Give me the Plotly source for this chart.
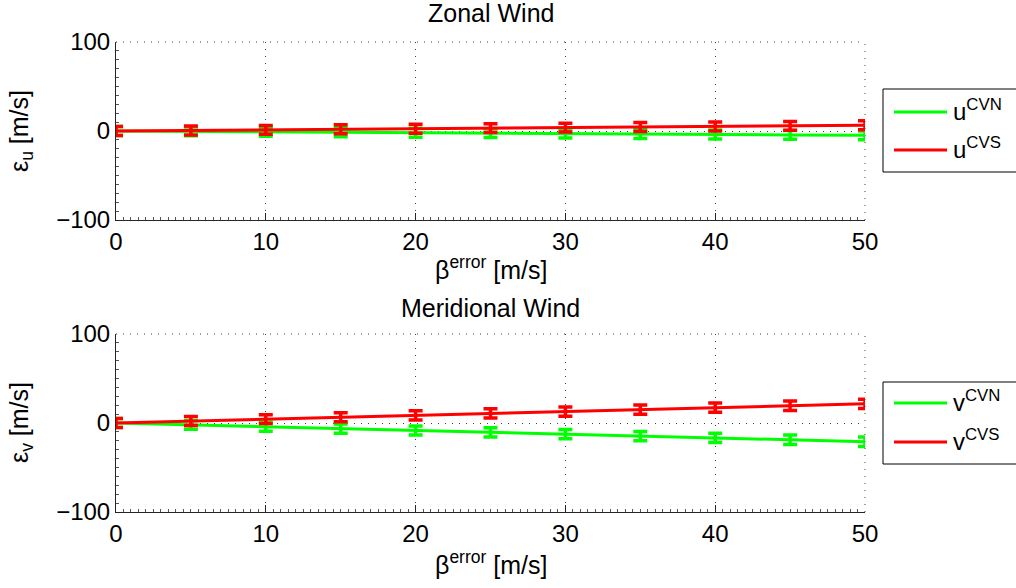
import plotly.graph_objects as go

# Error (m/s) in retrieved winds as a function of the injected beta error
beta_error = [0, 5, 10, 15, 20, 25, 30, 35, 40, 45, 50]

u_cvn = [0, -0.4, -0.9, -1.4, -1.9, -2.4, -2.9, -3.4, -3.9, -4.4, -4.9]
u_cvs = [0, 0.6, 1.3, 1.9, 2.6, 3.2, 3.8, 4.5, 5.1, 5.8, 6.4]
u_cvn_err = [5.0, 5.0, 5.0, 5.0, 5.0, 5.0, 5.0, 5.0, 5.0, 5.0, 5.0]
u_cvs_err = [5.0, 5.0, 5.0, 5.0, 5.0, 5.0, 5.0, 5.0, 5.0, 5.0, 5.0]

v_cvn = [0, -2.1, -4.2, -6.3, -8.4, -10.5, -12.6, -14.7, -16.8, -18.9, -21.0]
v_cvs = [0, 2.2, 4.3, 6.5, 8.6, 10.8, 12.9, 15.1, 17.2, 19.4, 21.5]
v_cvn_err = [5.0, 5.0, 5.0, 5.1, 5.1, 5.1, 5.2, 5.2, 5.2, 5.3, 5.3]
v_cvs_err = [5.0, 5.0, 5.0, 5.1, 5.1, 5.1, 5.2, 5.2, 5.2, 5.3, 5.3]

x_ticks = [0, 10, 20, 30, 40, 50]
y_ticks = [-100, 0, 100]

W, H = 1016, 588
GREEN = "#00ff00"
RED = "#ff0000"
FONT = "Liberation Sans, Arial, Helvetica, sans-serif"
GRID_DASH = "1px,6px"
GRID_COLOR = "#404040"


def fx(p):
    return p / W


def fy(p):
    return 1 - p / H


fig = go.Figure()


def add_series(x, y, err, color, xa, ya):
    fig.add_trace(go.Scatter(
        x=x, y=y, mode="lines", xaxis=xa, yaxis=ya,
        line=dict(color=color, width=3),
        error_y=dict(type="data", array=err, visible=True,
                     color=color, thickness=3.5, width=7),
        showlegend=False, cliponaxis=False,
    ))


add_series(beta_error, u_cvn, u_cvn_err, GREEN, "x", "y")
add_series(beta_error, u_cvs, u_cvs_err, RED, "x", "y")
add_series(beta_error, v_cvn, v_cvn_err, GREEN, "x2", "y2")
add_series(beta_error, v_cvs, v_cvs_err, RED, "x2", "y2")

grid_common = dict(
    showgrid=True, gridcolor=GRID_COLOR, gridwidth=1, griddash=GRID_DASH,
    showline=True, linecolor="#262626", linewidth=1,
    ticks="inside", ticklen=7, tickcolor="#262626",
    zeroline=False, mirror=False, layer="below traces",
    tickfont=dict(family=FONT, size=24, color="black"),
)

xa = dict(grid_common, range=[0, 50], tickvals=x_ticks,
          domain=[fx(116), fx(865)],
          minor=dict(dtick=0.5, ticks="inside", ticklen=3, tickcolor="#555555", showgrid=False))
ya_minor = dict(dtick=10, ticks="inside", ticklen=3, tickcolor="#555555", showgrid=False)

fig.update_layout(
    width=W, height=H,
    margin=dict(l=0, r=0, t=0, b=0, autoexpand=False),
    paper_bgcolor="white", plot_bgcolor="white",
    xaxis=dict(xa, anchor="y"),
    yaxis=dict(grid_common, range=[-100, 100], tickvals=y_ticks, anchor="x",
               domain=[fy(220), fy(42)], minor=ya_minor),
    xaxis2=dict(xa, anchor="y2"),
    yaxis2=dict(grid_common, range=[-100, 100], tickvals=y_ticks, anchor="x2",
                domain=[fy(512), fy(334)], minor=ya_minor),
    font=dict(family=FONT, color="black"),
)

annotations = []
shapes = []


def text(x, y, s, size, angle=0, xanchor="center"):
    annotations.append(dict(
        x=fx(x), y=fy(y), xref="paper", yref="paper", text=s, showarrow=False,
        xanchor=xanchor, yanchor="middle", textangle=angle,
        font=dict(family=FONT, size=size, color="black"),
    ))


# Dotted grid lines along the top and right edges of each panel
for xr, yr in (("x", "y"), ("x2", "y2")):
    shapes.append(dict(type="line", xref=xr + " domain", yref=yr + " domain",
                       x0=0, x1=1, y0=1, y1=1, layer="below",
                       line=dict(color=GRID_COLOR, width=1, dash=GRID_DASH)))
    shapes.append(dict(type="line", xref=xr + " domain", yref=yr + " domain",
                       x0=1, x1=1, y0=0, y1=1, layer="below",
                       line=dict(color=GRID_COLOR, width=1, dash=GRID_DASH)))

# Panel titles and axis labels
text(490.5, 13, "Zonal Wind", 25)
text(490.5, 308, "Meridional Wind", 25)
text(490.5, 268, "β<sup>error</sup> [m/s]", 25)
text(490.5, 563, "β<sup>error</sup> [m/s]", 25)
text(21, 131, "ε<sub>u</sub> [m/s]", 25, angle=-90)
text(21, 423, "ε<sub>v</sub> [m/s]", 25, angle=-90)


def legend_box(top, bottom, line1, line2, lab1, lab2):
    shapes.append(dict(type="rect", xref="paper", yref="paper",
                       x0=fx(883), x1=fx(1030), y0=fy(bottom), y1=fy(top),
                       line=dict(color="black", width=1), fillcolor="white"))
    for yy, color, lab in ((line1, GREEN, lab1), (line2, RED, lab2)):
        shapes.append(dict(type="line", xref="paper", yref="paper",
                           x0=fx(894), x1=fx(947), y0=fy(yy), y1=fy(yy),
                           line=dict(color=color, width=3)))
        text(951, yy - 2, lab, 24, xanchor="left")


legend_box(89, 172, 112, 150, "u<sup>CVN</sup>", "u<sup>CVS</sup>")
legend_box(382, 464, 403, 442, "v<sup>CVN</sup>", "v<sup>CVS</sup>")

fig.update_layout(annotations=annotations, shapes=shapes)

fig.write_html("out.html")
